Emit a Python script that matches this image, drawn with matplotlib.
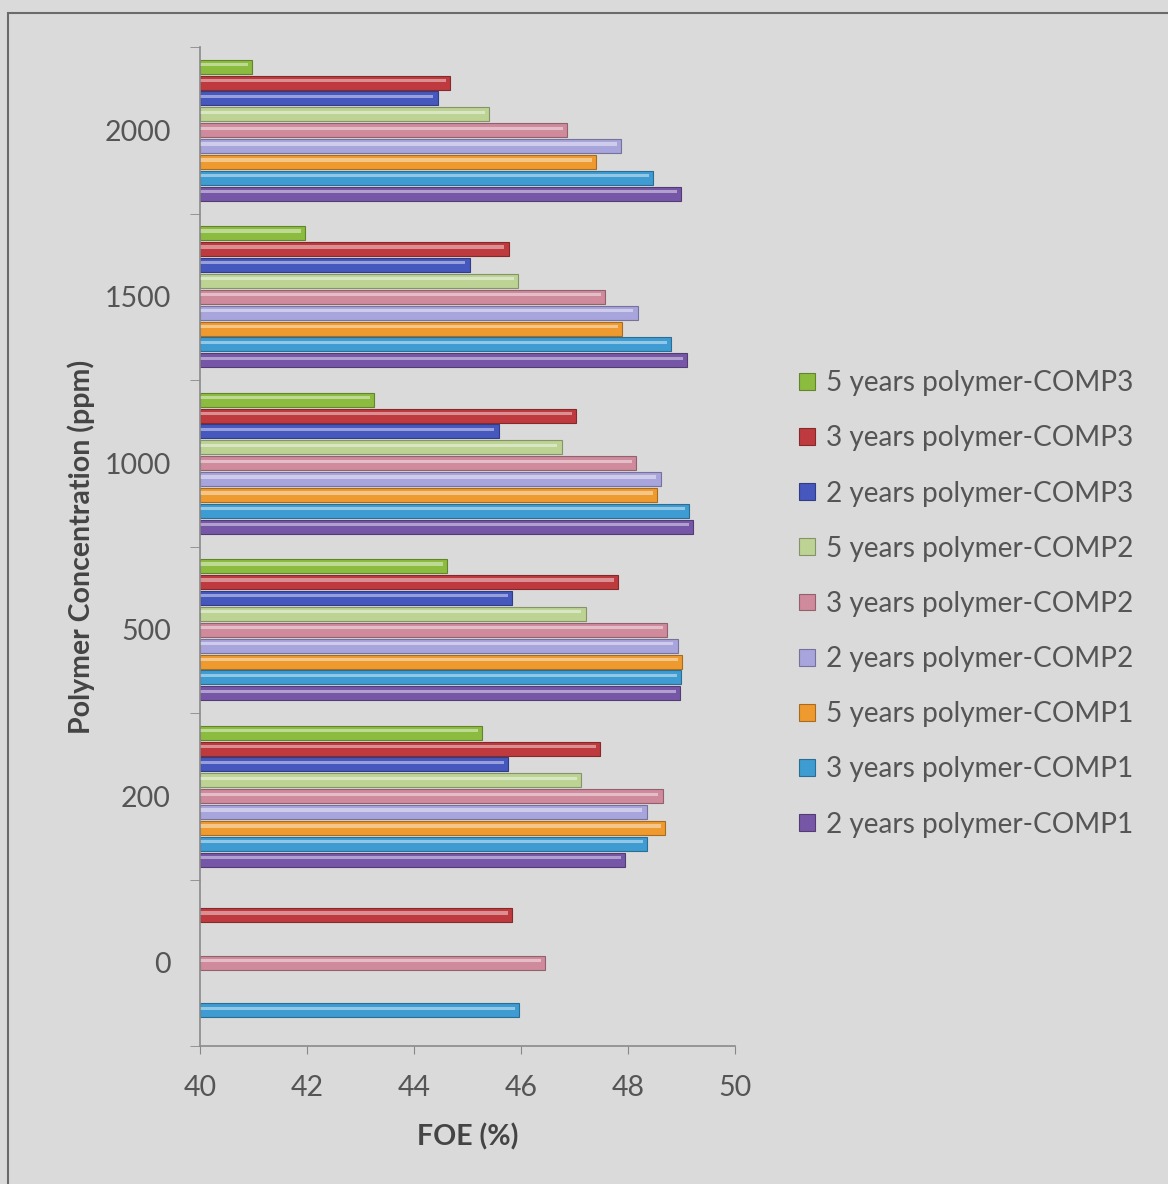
import numpy as np
import matplotlib
matplotlib.use("Agg")
import matplotlib.pyplot as plt
from matplotlib.patches import Rectangle
from matplotlib.colors import to_rgb

# concentration categories, bottom to top
categories = ["0", "200", "500", "1000", "1500", "2000"]

series_names = ["2 years polymer-COMP1", "3 years polymer-COMP1", "5 years polymer-COMP1",
                "2 years polymer-COMP2", "3 years polymer-COMP2", "5 years polymer-COMP2",
                "2 years polymer-COMP3", "3 years polymer-COMP3", "5 years polymer-COMP3"]

# FOE (%) per series, one value per category (nan = no bar)
comp1_2y = [np.nan, 47.95, 48.97, 49.22, 49.10, 48.99]
comp1_3y = [45.96, 48.36, 48.99, 49.14, 48.80, 48.47]
comp1_5y = [np.nan, 48.69, 49.01, 48.54, 47.89, 47.40]
comp2_2y = [np.nan, 48.35, 48.93, 48.61, 48.18, 47.87]
comp2_3y = [46.45, 48.65, 48.73, 48.15, 47.57, 46.86]
comp2_5y = [np.nan, 47.12, 47.21, 46.76, 45.94, 45.40]
comp3_2y = [np.nan, 45.76, 45.84, 45.58, 45.04, 44.44]
comp3_3y = [45.83, 47.48, 47.81, 47.03, 45.77, 44.68]
comp3_5y = [np.nan, 45.27, 44.62, 43.26, 41.96, 40.97]

series_values = [comp1_2y, comp1_3y, comp1_5y, comp2_2y, comp2_3y,
                 comp2_5y, comp3_2y, comp3_3y, comp3_5y]

colors = ["#7656A6", "#3E9CD2", "#EE9A2E", "#A8A4DC", "#CF8A9C",
          "#BDD394", "#4657BE", "#BE3A3E", "#8CBC3F"]

bg = "#DADADA"
fig = plt.figure(figsize=(11.68, 11.84), dpi=100, facecolor=bg)
plt.rcParams['font.family'] = ['Lato', 'DejaVu Sans']

# outer chart frame
fig.patches.append(Rectangle((8 / 1168, -0.05), 1.2, 1 - 13 / 1184 + 0.05,
                             transform=fig.transFigure, fill=False,
                             edgecolor="#6a6a6a", linewidth=1.5))

ax = fig.add_axes([200 / 1168, 1 - 1046 / 1184, 535 / 1168, 999 / 1184])
ax.set_facecolor(bg)

x0 = 40
slot = 0.0955
y = np.arange(len(categories))
for j, (vals, c) in enumerate(zip(series_values, colors)):
    vals = np.array(vals)
    pos = y + (j - 4) * slot
    ax.barh(pos, vals - x0, left=x0, height=slot * 0.88, color=c,
            edgecolor=np.array(to_rgb(c)) * 0.7, linewidth=0.8, label=series_names[j])
    # light highlight stripe for the glossy look
    hl = np.array(to_rgb(c)) * 0.45 + 0.55
    ax.barh(pos + slot * 0.13, vals - x0 - 0.08, left=x0, height=slot * 0.2,
            color=hl, linewidth=0, alpha=0.8)

ax.set_xlim(40, 50)
ax.set_ylim(-0.5, 5.5)
ax.set_xticks([40, 42, 44, 46, 48, 50])
ax.set_yticks(y)
ax.set_yticklabels(categories)
ax.set_yticks(np.arange(-0.5, 6, 1), minor=True)
ax.tick_params(axis="y", which="major", length=0, pad=21, labelsize=20.5, labelcolor="#555555")
ax.tick_params(axis="y", which="minor", length=7, color="#888888", direction="out")
ax.tick_params(axis="x", length=6, color="#888888", direction="out", pad=15,
               labelsize=20.5, labelcolor="#555555")
for s in ["top", "right"]:
    ax.spines[s].set_visible(False)
for s in ["left", "bottom"]:
    ax.spines[s].set_color("#8a8a8a")
    ax.spines[s].set_linewidth(1.2)

ax.set_xlabel("FOE (%)", fontsize=20.5, fontweight="bold", color="#444444", labelpad=16)
ax.set_ylabel("Polymer Concentration (ppm)", fontsize=20.5, fontweight="bold",
              color="#444444", labelpad=7)

handles, labels = ax.get_legend_handles_labels()
leg = fig.legend(handles[::-1], labels[::-1], loc="upper left",
                 bbox_to_anchor=(774 / 1168, 1 - 345 / 1184), frameon=False,
                 fontsize=20.2, labelcolor="#555555", labelspacing=1.04,
                 handlelength=0.55, handleheight=0.55, handletextpad=0.4)

fig.savefig("out.png", dpi=100, facecolor=bg)
